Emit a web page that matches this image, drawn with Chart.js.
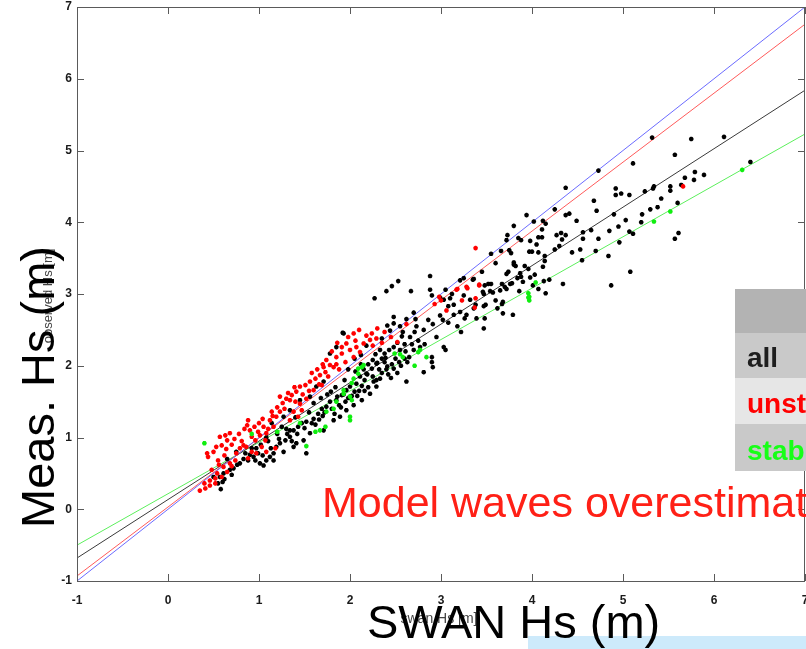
<!DOCTYPE html>
<html>
<head>
<meta charset="utf-8">
<script src="https://cdn.jsdelivr.net/npm/chart.js@4.4.1/dist/chart.umd.min.js"></script>
<style>
  html, body { margin: 0; padding: 0; background: #fff; }
  canvas { display: block; }
</style>
</head>
<body>
<canvas id="c" width="806" height="649"></canvas>
<script>
const allHs = [
  [5.32,5.18],[5.75,5.16],[6.11,5.19],[5.57,4.94],[5.11,4.82],[4.73,4.72],[6.40,4.84],[5.79,4.70],[5.89,4.66],[5.78,4.59],
  [5.68,4.62],[5.64,4.52],[5.52,4.50],[5.52,4.44],[5.34,4.50],[5.33,4.47],[5.24,4.43],[5.42,4.33],[5.60,4.27],[5.38,4.21],
  [5.30,4.18],[5.21,4.11],[5.20,4.00],[4.92,4.47],[4.98,4.40],[4.92,4.38],[5.07,4.38],[4.68,4.30],[4.71,4.16],[4.90,4.11],
  [5.03,4.03],[4.95,3.94],[4.85,3.88],[5.07,3.87],[5.11,3.84],[4.96,3.72],[4.73,3.77],[4.65,3.89],[4.56,3.86],[4.56,3.77],
  [4.53,3.62],[4.70,3.60],[4.44,3.58],[4.55,3.47],[4.84,3.53],[5.61,3.85],[5.57,3.77],[5.08,3.31],[4.87,3.12],[4.34,3.14],
  [4.49,4.02],[4.41,4.12],[4.37,4.10],[4.37,4.48],[4.25,4.18],[3.94,4.10],[4.02,4.01],[4.12,4.02],[4.15,3.98],[4.11,3.90],
  [3.80,3.95],[3.73,3.82],[3.72,3.75],[3.85,3.78],[3.88,3.75],[3.98,3.74],[4.07,3.79],[4.11,3.79],[4.05,3.69],[4.27,3.82],
  [4.33,3.76],[4.37,3.82],[4.32,3.85],[4.25,3.62],[4.30,3.67],[4.14,3.53],[4.07,3.58],[3.97,3.59],[4.00,3.59],[3.75,3.61],
  [3.66,3.60],[3.55,3.56],[3.77,3.57],[3.60,3.43],[3.80,3.44],[3.80,3.41],[3.82,3.39],[3.74,3.31],[3.72,3.28],[3.92,3.39],
  [3.96,3.35],[3.87,3.29],[3.88,3.24],[3.98,3.23],[4.03,3.27],[4.14,3.46],[4.12,3.38],[4.13,3.18],[4.19,3.20],[4.15,3.01],
  [4.07,3.07],[4.01,3.12],[3.90,3.17],[3.84,3.22],[3.67,3.14],[3.76,3.14],[3.78,3.15],[3.70,3.10],[3.57,3.02],[3.54,3.04],
  [3.60,2.91],[3.68,2.89],[3.67,2.86],[3.46,3.03],[3.47,3.00],[3.52,3.14],[3.35,3.20],[3.25,2.98],[3.32,2.92],[3.49,2.85],
  [3.38,2.85],[3.14,2.85],[3.10,2.94],[3.25,3.22],[3.86,3.04],[3.79,2.71],[3.68,2.73],[3.62,2.80],
  [3.21,3.19],[3.36,3.21],[3.48,3.12],[3.55,3.14],[3.65,3.05],[3.72,3.07],[3.45,3.31],[3.05,3.06],[3.12,3.00],
  [2.27,2.94],[2.40,3.04],[2.46,3.11],[2.53,3.18],[2.67,3.04],[2.88,3.25],[2.88,3.06],[2.90,2.98],[2.99,2.95],[3.03,2.92],
  [1.92,2.46],[2.48,2.68],[2.48,2.59],[2.41,2.56],[2.55,2.55],[2.62,2.65],[2.70,2.74],[2.72,2.65],[2.71,2.47],[2.81,2.50],
  [2.86,2.64],[2.91,2.58],[2.99,2.70],[3.08,2.83],[3.14,2.71],[3.21,2.75],[3.26,2.66],[3.28,2.71],[3.36,2.80],[3.47,2.83],
  [3.48,2.66],[3.39,2.66],[3.47,2.52],[3.22,2.47],[3.18,2.55],[3.08,2.60],[3.02,2.64],[2.95,2.40],[3.03,2.26],[3.05,2.22],
  [2.90,2.12],[2.90,2.05],[2.91,1.98],[2.81,1.91],[2.62,1.78],[2.56,2.00],[2.60,2.10],[2.57,2.41],[2.66,2.40],[2.73,2.55],
  [2.77,2.26],[2.70,2.22],[2.61,2.20],[2.52,2.32],[2.48,2.26],[2.43,2.22],[2.33,2.22],[2.28,2.16],[2.25,2.08],[2.30,2.04],
  [2.39,2.11],[2.41,1.99],[2.48,1.96],[2.35,1.90],[2.45,1.83],[2.52,1.90],[2.29,1.80],[2.19,1.88],[2.16,1.80],[2.13,1.72],
  [2.05,1.64],[2.00,1.57],[1.93,1.60],[1.86,1.57],[1.79,1.64],
  [2.20,1.70],[2.25,1.85],[2.32,1.95],[2.38,2.05],[2.42,1.88],[2.50,2.10],[2.55,2.22],[2.60,2.30],[2.65,2.12],[2.35,2.38],
  [2.44,2.49],[2.58,2.47],[2.18,2.28],[2.12,2.15],
  [0.55,0.36],[0.57,0.45],[0.61,0.50],[0.72,0.57],[0.79,0.64],[0.88,0.68],[0.94,0.73],[0.99,0.78],[1.01,0.64],[1.08,0.68],
  [1.12,0.73],[1.16,0.78],[1.19,0.87],[1.23,0.92],[1.29,0.96],[1.34,1.01],[1.38,1.10],[1.43,1.15],[1.47,1.20],[1.52,1.22],
  [1.60,1.26],[1.65,1.33],[1.69,1.40],[1.74,1.43],[1.78,1.50],[1.85,1.52],[1.91,1.59],[1.96,1.66],[2.00,1.71],[2.07,1.75],
  [2.11,1.85],[2.18,1.89],[2.24,1.96],[2.29,2.03],[2.35,2.10],[2.38,2.17],[2.29,1.71],[2.22,1.61],[2.13,1.52],[2.04,1.45],
  [1.96,1.38],[1.89,1.29],[1.82,1.24],[1.71,1.10],[1.56,1.06],[1.49,0.96],[1.38,0.87],[1.27,0.80],[1.16,0.68],[1.05,0.61],
  [1.93,2.45],[1.85,2.26],[1.78,2.17],[1.71,1.78],[1.63,1.71],[1.56,1.57],[1.45,1.52],[1.34,1.38],[1.27,1.29],[1.14,1.20],
  [1.52,0.78],[1.41,0.92],[1.34,1.10],
  [1.20,1.05],[1.30,1.12],[1.55,1.35],[1.62,1.18],[1.70,1.30],[1.80,1.40],[1.88,1.45],[1.95,1.50],[2.02,1.58],[2.10,1.65],
  [2.15,1.95],[2.20,2.02],[2.05,2.10],[1.98,1.95],[1.75,1.60],[0.65,0.70],[0.75,0.80],[0.85,0.78],[0.92,0.85],[1.02,0.90],
  [1.10,0.95],[0.50,0.45],[0.60,0.38],[0.70,0.48],[0.58,0.28],
  [0.62,0.42],[0.68,0.55],[0.76,0.62],[0.83,0.70],[0.90,0.76],[0.97,0.85],[1.04,0.75],[1.13,0.85],[1.22,0.98],[1.31,1.05],
  [1.36,0.95],[1.42,1.05],[1.50,1.13],[1.58,1.20],[1.66,1.25],[1.72,1.35],[1.83,1.33],[1.90,1.42],[1.98,1.55],[2.08,1.58],
  [2.16,1.65],[2.26,1.78],[2.33,1.82],[2.40,1.95],[2.46,2.02],[2.54,2.05],[2.63,2.05],[2.68,2.30],[2.75,2.35],[2.82,2.30],
  [1.60,1.48],[1.68,1.55],[1.84,1.70],[1.94,1.80],[2.06,1.92],[2.12,2.02],[1.40,1.28],[1.25,1.15],[1.08,1.00],[0.96,0.68]
];

const unstableHs = [
  [0.35,0.26],[0.41,0.29],[0.46,0.40],[0.44,0.73],[0.43,0.78],[0.50,0.80],[0.53,0.87],[0.57,1.01],[0.63,1.03],[0.68,1.06],
  [0.65,0.96],[0.59,0.89],[0.55,0.68],[0.61,0.59],[0.54,0.50],[0.52,0.43],[0.59,0.45],[0.65,0.52],[0.68,0.64],[0.74,0.68],
  [0.75,0.78],[0.79,0.85],[0.83,0.89],[0.86,0.87],[0.88,1.24],[0.87,1.17],[0.90,1.10],[0.92,1.01],[0.96,0.96],[0.99,1.08],
  [1.01,1.03],[1.05,1.15],[1.07,0.96],[1.08,1.06],[1.03,0.87],[1.12,1.24],[1.16,1.15],[1.19,1.29],[1.23,1.36],[1.14,1.36],
  [1.23,1.57],[1.30,1.54],[1.34,1.52],[1.36,1.59],[1.41,1.64],[1.45,1.47],[1.38,1.36],[1.34,1.24],[1.43,1.29],[1.45,1.71],
  [1.51,1.73],[1.56,1.78],[1.62,1.82],[1.67,1.87],[1.73,1.91],[1.71,1.98],[1.74,2.08],[1.78,2.01],[1.82,1.98],[1.85,2.12],
  [1.91,2.17],[1.91,2.26],[1.96,2.31],[2.00,2.22],[2.04,2.12],[2.07,2.26],[2.11,2.19],[2.15,2.31],[2.22,2.36],[2.24,2.45],
  [2.29,2.38],[2.04,2.45],[1.85,2.02],[1.69,1.73],[1.60,1.66],[1.52,1.54],[1.47,1.38],[1.08,0.80],[1.18,0.85],[0.97,0.78],
  [0.92,0.80],[0.88,0.71],
  [2.30,2.52],[2.38,2.47],[2.45,2.40],[2.52,2.33],[2.35,2.32],[2.62,2.58],[2.93,2.86],[3.06,2.77],[3.17,3.06],[3.28,3.10],
  [3.37,2.81],[3.42,3.13],[3.38,3.64],[3.29,3.08],[3.18,3.07],[3.42,3.12],[3.38,2.94],[3.23,2.91],[3.00,2.91],[2.98,2.96],
  [5.66,4.50],
  [0.48,0.55],[0.56,0.62],[0.62,0.75],[0.70,0.90],[0.73,0.98],[0.78,1.05],[0.81,0.95],[0.84,1.12],[0.95,1.15],[1.00,1.20],
  [1.04,1.26],[1.10,1.12],[1.15,1.30],[1.20,1.42],[1.26,1.48],[1.28,1.40],[1.32,1.62],[1.39,1.70],[1.40,1.50],[1.48,1.60],
  [1.55,1.65],[1.58,1.90],[1.64,1.95],[1.66,1.74],[1.70,2.02],[1.76,1.85],[1.80,2.20],[1.86,2.32],[1.88,1.95],[1.95,2.05],
  [1.98,2.40],[2.06,2.35],[2.10,2.50],[2.18,2.42],[2.25,2.28],[0.46,0.33],[0.40,0.36],[0.52,0.36],[0.64,0.84],[0.70,0.60]
];

const stableHs = [
  [0.40,0.92],[0.92,1.05],[1.52,0.88],[1.62,1.08],[1.67,1.10],[1.73,1.15],[1.74,1.36],[1.82,1.40],[1.85,1.50],[1.93,1.66],
  [2.02,1.52],[2.00,1.29],[2.04,1.82],[2.09,1.96],[2.13,1.98],[2.02,1.76],[2.09,1.89],[2.55,2.16],[2.58,2.12],[2.75,2.19],
  [2.84,2.12],[2.71,2.00],[2.77,2.22],[2.49,2.17],[2.15,2.01],[2.00,1.57],[1.93,1.61],[2.00,1.24],[3.96,3.01],[3.96,2.95],
  [3.97,2.91],[4.04,3.16],[3.97,2.96],[5.34,4.01],[5.52,4.15],[6.31,4.73],[1.20,1.08],[1.45,1.20]
];

// fitted lines: 1:1, unstable, all, stable -- y read at the axis ends
const fitNames = ["1:1", "unstable fit", "all fit", "stable fit"];
const fitColors = ["#6b6bff", "#ff5a5a", "#3a3a3a", "#5cef5c"];
const fitXEnds = [-1, 7];
const fitYStart = [-1, -0.93, -0.68, -0.50];
const fitYEnd = [7, 6.76, 5.84, 5.23];

const axisTicks = [-1, 0, 1, 2, 3, 4, 5, 6, 7];

const tableRows = ["all", "unst", "stab"];
const tableColors = ["#1e1e1e", "#ff0000", "#17ff17"];

const FONT = "'Liberation Sans', Arial, Helvetica, sans-serif";

const pointDs = (label, data, color, order) => ({
  type: "scatter", label, data: data.map(([x, y]) => ({ x, y })),
  pointStyle: "star", pointRadius: 2.3, borderWidth: 1.5,
  borderColor: color, backgroundColor: color, order
});

const lineDs = fitNames.map((name, i) => ({
  type: "line", label: name,
  data: fitXEnds.map((x, k) => ({ x, y: k === 0 ? fitYStart[i] : fitYEnd[i] })),
  borderColor: fitColors[i], borderWidth: 1, pointRadius: 0, fill: false, order: 10
}));

const framePlugin = {
  id: "frame",
  afterDraw(chart) {
    const { ctx, chartArea: a, scales: { x, y } } = chart;
    ctx.save();
    ctx.strokeStyle = "#5a5a5a";
    ctx.lineWidth = 1;
    ctx.strokeRect(a.left + 0.5, a.top + 0.5, a.right - a.left - 1, a.bottom - a.top);
    ctx.beginPath();
    axisTicks.forEach((v) => {
      const px = Math.round(x.getPixelForValue(v)) + 0.5;
      const py = Math.round(y.getPixelForValue(v)) + 0.5;
      ctx.moveTo(px, a.bottom); ctx.lineTo(px, a.bottom - 7);
      ctx.moveTo(px, a.top); ctx.lineTo(px, a.top + 7);
      ctx.moveTo(a.left, py); ctx.lineTo(a.left + 7, py);
      ctx.moveTo(a.right, py); ctx.lineTo(a.right - 7, py);
    });
    ctx.stroke();

    // original matlab axis titles, partly hidden
    ctx.fillStyle = "#444";
    ctx.font = "13px " + FONT;
    ctx.textAlign = "center";
    ctx.textBaseline = "middle";
    ctx.save();
    ctx.translate(48, 296);
    ctx.rotate(-Math.PI / 2);
    ctx.fillText("observed Hs [m]", 0, 0);
    ctx.restore();
    ctx.font = "14px " + FONT;
    ctx.fillText("swan Hs [m]", 439, 619);

    // light blue box at the bottom
    ctx.fillStyle = "#cdeafb";
    ctx.fillRect(528, 636, 278, 13);

    // big axis labels
    ctx.fillStyle = "#000";
    ctx.font = "47px " + FONT;
    ctx.textAlign = "left";
    ctx.textBaseline = "alphabetic";
    ctx.fillText("SWAN Hs (m)", 367, 638);
    ctx.save();
    ctx.translate(54, 528);
    ctx.rotate(-Math.PI / 2);
    ctx.fillText("Meas. Hs (m)", 0, 0);
    ctx.restore();

    // annotation
    ctx.fillStyle = "#ff2016";
    ctx.font = "43px " + FONT;
    ctx.fillText("Model waves overestimate", 322, 517);

    // table
    const rowTops = [289, 333, 378, 424, 471];
    const rowFills = ["#b3b3b3", "#c9c9c9", "#e6e6e6", "#c9c9c9"];
    rowFills.forEach((c, i) => {
      ctx.fillStyle = c;
      ctx.fillRect(735, rowTops[i], 71, rowTops[i + 1] - rowTops[i]);
    });
    ctx.font = "bold 28px " + FONT;
    tableRows.forEach((t, i) => {
      ctx.fillStyle = tableColors[i];
      ctx.fillText(t, 747, rowTops[i + 2] - 11);
    });
    ctx.restore();
  }
};

const noPad = (s) => { s.paddingLeft = 0; s.paddingRight = 0; s.paddingTop = 0; s.paddingBottom = 0; };

new Chart(document.getElementById("c"), {
  type: "scatter",
  data: {
    datasets: [
      pointDs("stable", stableHs, "#10ee10", 1),
      pointDs("unstable", unstableHs, "#ff0000", 2),
      pointDs("all", allHs, "#000000", 3),
      ...lineDs
    ]
  },
  options: {
    responsive: false,
    animation: false,
    layout: { autoPadding: false, padding: { top: 7, right: 1, bottom: 0, left: 0 } },
    plugins: { legend: { display: false }, tooltip: { enabled: false } },
    scales: {
      x: {
        type: "linear", min: -1, max: 7,
        afterFit: (s) => { s.height = 68; noPad(s); },
        afterBuildTicks: (s) => { s.ticks = axisTicks.map((v) => ({ value: v })); },
        grid: { display: false, drawTicks: false },
        border: { display: false },
        ticks: { color: "#1a1a1a", padding: 12, font: { family: FONT, size: 12, weight: "bold" } }
      },
      y: {
        type: "linear", min: -1, max: 7,
        afterFit: (s) => { s.width = 77; noPad(s); },
        afterBuildTicks: (s) => { s.ticks = axisTicks.map((v) => ({ value: v })); },
        grid: { display: false, drawTicks: false },
        border: { display: false },
        ticks: { color: "#1a1a1a", padding: 5, font: { family: FONT, size: 12, weight: "bold" } }
      }
    }
  },
  plugins: [framePlugin]
});
</script>
</body>
</html>
